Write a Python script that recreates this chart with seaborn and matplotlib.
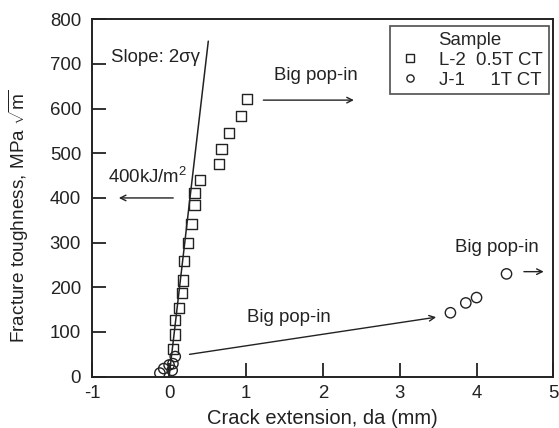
import matplotlib.pyplot as plt
import seaborn as sns
import pandas as pd

# L-2 0.5T CT (squares)
l2_da = [0.05, 0.08, 0.08, 0.13, 0.17, 0.18, 0.19, 0.25, 0.29, 0.33, 0.33, 0.40, 0.65, 0.68, 0.78, 0.94, 1.01]
l2_k = [62, 94, 127, 154, 188, 215, 259, 299, 342, 384, 411, 440, 476, 509, 545, 583, 621]
# J-1 1T CT (circles)
j1_da = [-0.12, -0.07, 0.0, 0.04, 0.05, 0.08, 3.66, 3.86, 4.0, 4.39]
j1_k = [8, 18, 26, 14, 29, 45, 143, 165, 177, 230]
# blunting line
line_da = [0.0, 0.51]
line_k = [0, 751]

lab_l2 = 'L-2  0.5T CT'
lab_j1 = 'J-1     1T CT'
df = pd.concat([
    pd.DataFrame({'da': l2_da, 'K': l2_k, 'Sample': lab_l2}),
    pd.DataFrame({'da': j1_da, 'K': j1_k, 'Sample': lab_j1}),
])

sns.set_style('ticks')
plt.rcParams['font.family'] = ['Liberation Sans', 'DejaVu Sans']
plt.rcParams['mathtext.fontset'] = 'custom'
plt.rcParams['mathtext.rm'] = 'Liberation Sans'
plt.rcParams['mathtext.it'] = 'Liberation Sans:italic'
plt.rcParams['axes.unicode_minus'] = False

ink = '#222222'
fs = 13.4

fig, ax = plt.subplots(figsize=(5.59, 4.28), dpi=100)
fig.subplots_adjust(left=0.165, right=0.99, top=0.955, bottom=0.12)

sns.scatterplot(data=df, x='da', y='K', hue='Sample', style='Sample',
                markers={lab_l2: 's', lab_j1: 'o'},
                palette={lab_l2: ink, lab_j1: ink},
                linewidth=1.0, s=55, ax=ax, zorder=3)
for c in ax.collections:
    c.set_facecolor('none')
    c.set_edgecolor(ink)
sns.lineplot(x=line_da, y=line_k, color=ink, lw=1.1, ax=ax, zorder=2)

ax.set_xlim(-1, 5)
ax.set_ylim(0, 800)
ax.set_xticks(range(-1, 6))
ax.set_yticks(range(0, 801, 100))
ax.tick_params(direction='in', length=10, width=1.3, labelsize=fs, colors=ink)
ax.tick_params(axis='x', pad=6)
ax.tick_params(axis='y', pad=8)
for s in ax.spines.values():
    s.set_linewidth(1.4)
    s.set_color(ink)
ax.set_xlabel('Crack extension, da (mm)', fontsize=14.5, color=ink)
ax.set_ylabel(r'Fracture toughness, MPa $\sqrt{\mathrm{m}}$', fontsize=13.7, color=ink)
ax.xaxis.set_label_coords(0.5, -0.09)
ax.yaxis.set_label_coords(-0.133, 0.45)

txt = dict(fontsize=fs, color=ink)
arr = dict(arrowstyle='->', color=ink, lw=1.0)
ax.text(-0.76, 715, 'Slope: 2σγ', va='center', **txt)
ax.text(-0.79, 447, r'400kJ/m$^2$', va='center', **txt)
ax.annotate('', xy=(-0.69, 400), xytext=(0.09, 400), arrowprops=arr)
ax.text(1.36, 675, 'Big pop-in', va='center', **txt)
ax.annotate('', xy=(2.44, 619), xytext=(1.19, 619), arrowprops=arr)
ax.text(1.02, 132, 'Big pop-in', va='center', **txt)
ax.annotate('', xy=(3.51, 134), xytext=(0.23, 49), arrowprops=arr)
ax.text(3.72, 288, 'Big pop-in', va='center', **txt)
ax.annotate('', xy=(4.91, 235), xytext=(4.58, 235), arrowprops=arr)

leg = ax.legend(title='Sample', loc='upper right', fontsize=fs, title_fontsize=fs,
                frameon=True, fancybox=False, edgecolor=ink,
                handletextpad=0.85, borderpad=0.3, labelspacing=0.15,
                handlelength=1.5, markerscale=0.7, borderaxespad=0,
                bbox_to_anchor=(0.99, 0.98))
leg.get_frame().set_linewidth(1.2)
for h in leg.legend_handles:
    h.set_markerfacecolor('none')
    h.set_markeredgecolor(ink)

plt.savefig('out.png', dpi=100)
plt.close()
